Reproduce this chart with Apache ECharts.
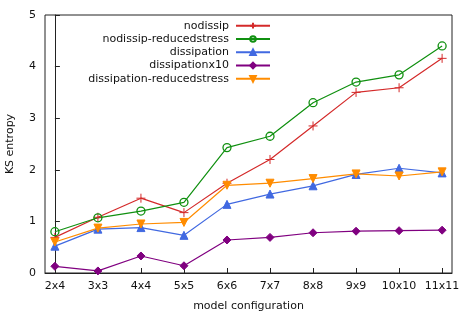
<!DOCTYPE html>
<html><head><meta charset="utf-8">
<script src="https://cdn.jsdelivr.net/npm/echarts@6/dist/echarts.min.js"></script>
<style>html,body{margin:0;padding:0;background:#fff}#c{width:472px;height:314px}</style>
</head><body><div id="c"></div>
<script>
var categories = ['2x4','3x3','4x4','5x5','6x6','7x7','8x8','9x9','10x10','11x11'];
var nodissip = [0.69,1.08,1.45,1.17,1.74,2.20,2.85,3.50,3.59,4.16];
var nodissipReduced = [0.80,1.07,1.20,1.37,2.43,2.65,3.30,3.70,3.84,4.40];
var dissipation = [0.52,0.85,0.88,0.73,1.33,1.53,1.69,1.91,2.03,1.94];
var dissipationx10 = [0.13,0.04,0.33,0.14,0.64,0.69,0.78,0.81,0.82,0.83];
var dissipationReduced = [0.60,0.87,0.95,0.98,1.70,1.74,1.83,1.92,1.88,1.96];
var yTicks = [0,1,2,3,4,5];

function pts(arr){ return arr.map(function(v,i){ return [i, v]; }); }
var FONT = 'DejaVu Sans';
var TXT = '#111';
var FS = 11;
var cats = categories.map(function(_,i){return i;});

function mk(name, data, color, symbol, size, hollow){
  return {
    name: name, type: 'line', data: pts(data),
    symbol: symbol, symbolSize: size, showSymbol: true,
    lineStyle: {color: color, width: 1.2},
    itemStyle: hollow ? {color: 'none', borderColor: color, borderWidth: 1.3} : {color: color, borderColor: color, borderWidth: 1},
    emphasis: {disabled: true}, animation: false
  };
}

var chart = echarts.init(document.getElementById('c'), null, {renderer: 'canvas'});
chart.setOption({
  animation: false,
  textStyle: {fontFamily: FONT, color: TXT},
  grid: {left: 45, right: 20, top: 15, bottom: 41, show: true, borderColor: '#222', borderWidth: 1, containLabel: false, outerBoundsMode: 'none'},
  legend: {
    orient: 'vertical', align: 'right', right: 201, top: 19,
    itemWidth: 34, itemHeight: 7, itemGap: 0, padding: 0,
    textStyle: {fontFamily: FONT, fontSize: FS, color: TXT, lineHeight: 13.3, padding: [0, 2, 0, 0]},
    data: ['nodissip','nodissip-reducedstress','dissipation','dissipationx10','dissipation-reducedstress']
  },
  xAxis: {
    type: 'value', min: -0.23, max: 9.23,
    name: 'model configuration', nameLocation: 'middle', nameGap: 28,
    nameTextStyle: {fontFamily: FONT, fontSize: FS, color: TXT},
    axisLine: {show: true, lineStyle: {color: '#222', width: 1}},
    axisTick: {show: true, inside: true, length: 5, customValues: cats, lineStyle: {color: '#222'}},
    axisLabel: {customValues: cats, formatter: function(v){ return categories[Math.round(v)]; }, fontFamily: FONT, fontSize: FS, color: TXT, margin: 8},
    splitLine: {show: false}
  },
  yAxis: {
    type: 'value', min: 0, max: 5, interval: 1,
    name: 'KS entropy', nameLocation: 'middle', nameGap: 29,
    nameTextStyle: {fontFamily: FONT, fontSize: FS, color: TXT},
    axisLine: {show: true, lineStyle: {color: '#222', width: 1}},
    axisTick: {show: true, inside: true, length: 5, lineStyle: {color: '#222'}},
    axisLabel: {formatter: function(v){ return yTicks.indexOf(v) >= 0 ? String(v) : ''; }, fontFamily: FONT, fontSize: FS, color: TXT, margin: 9},
    splitLine: {show: false}
  },
  series: [
    mk('nodissip', nodissip, '#d42a2a', 'path://M5,0L5,10M0,5L10,5', 9, false),
    mk('nodissip-reducedstress', nodissipReduced, '#109010', 'circle', 8, true),
    mk('dissipation', dissipation, '#4169e1', 'triangle', 8, false),
    mk('dissipationx10', dissipationx10, '#800080', 'diamond', 8, false),
    mk('dissipation-reducedstress', dissipationReduced, '#ff8c00', 'path://M0,0L10,0L5,9Z', 8, false)
  ]
});
</script></body></html>
